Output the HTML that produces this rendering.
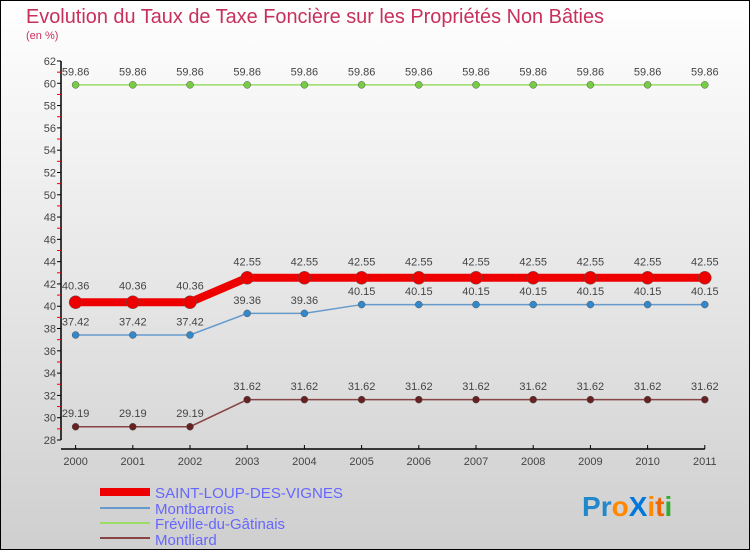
<!DOCTYPE html>
<html><head><meta charset="utf-8"><style>
body{margin:0;width:750px;height:550px;overflow:hidden;font-family:"Liberation Sans",sans-serif}
svg{display:block}
</style></head><body>
<svg id="chart" width="750" height="550" xmlns="http://www.w3.org/2000/svg">
<defs><linearGradient id="bg" x1="0" y1="0" x2="0" y2="1"><stop offset="0" stop-color="#ffffff"/><stop offset="1" stop-color="#cfcfcf"/></linearGradient></defs>
<rect x="0.5" y="0.5" width="749" height="549" fill="url(#bg)" stroke="#000"/>
<text x="26" y="23" font-size="20" fill="#c8305c" textLength="578" lengthAdjust="spacingAndGlyphs">Evolution du Taux de Taxe Foncière sur les Propriétés Non Bâties</text>
<text x="26" y="39" font-size="11" fill="#c8305c">(en %)</text>
<g id="axes"></g>
<g id="series"></g>
<g font-size="15" fill="#6666ff">
<rect x="100" y="488" width="50" height="8" fill="#ee0000"/>
<text x="155" y="498" textLength="188" lengthAdjust="spacingAndGlyphs">SAINT-LOUP-DES-VIGNES</text>
<rect x="100" y="507" width="50" height="2" fill="#6699cc"/>
<text x="155" y="514">Montbarrois</text>
<rect x="100" y="522" width="50" height="2" fill="#99dd66"/>
<text x="155" y="529">Fréville-du-Gâtinais</text>
<rect x="100" y="537" width="50" height="2" fill="#884444"/>
<text x="155" y="545">Montliard</text>
</g>
<g font-size="28" font-weight="bold">
<text x="582" y="516"><tspan fill="#2288cc">P</tspan><tspan fill="#2288cc">r</tspan><tspan fill="#ff8800">o</tspan><tspan fill="#0077dd">X</tspan><tspan fill="#ff8800">i</tspan><tspan fill="#ee6600">t</tspan><tspan fill="#33aa33">i</tspan></text>
</g>
</svg>
<script>
const years=["2000","2001","2002","2003","2004","2005","2006","2007","2008","2009","2010","2011"];
const yTicks=[28,30,32,34,36,38,40,42,44,46,48,50,52,54,56,58,60,62];
const saintLoup=[40.36,40.36,40.36,42.55,42.55,42.55,42.55,42.55,42.55,42.55,42.55,42.55];
const montbarrois=[37.42,37.42,37.42,39.36,39.36,40.15,40.15,40.15,40.15,40.15,40.15,40.15];
const freville=[59.86,59.86,59.86,59.86,59.86,59.86,59.86,59.86,59.86,59.86,59.86,59.86];
const montliard=[29.19,29.19,29.19,31.62,31.62,31.62,31.62,31.62,31.62,31.62,31.62,31.62];
const NS="http://www.w3.org/2000/svg";
const X0=75.6,DX=57.2,Y0=440,YMIN=28,YMAX=62,YTOP=61;
const xs=i=>X0+i*DX, ys=v=>Y0-(v-YMIN)*(Y0-YTOP)/(YMAX-YMIN);
function mk(tag,attrs,parent){const e=document.createElementNS(NS,tag);for(const k in attrs)e.setAttribute(k,attrs[k]);parent.appendChild(e);return e;}
const ax=document.getElementById('axes');
let l=mk('line',{x1:61,y1:YTOP,x2:61,y2:Y0,stroke:'#000','stroke-width':1.5},ax);


l=mk('line',{x1:61,y1:449,x2:xs(11),y2:449,stroke:'#000','stroke-width':1.5},ax);


yTicks.forEach(v=>{
 const y=ys(v);
 mk('line',{x1:57,y1:y,x2:61,y2:y,stroke:'#000'},ax);
 if(v<YMAX) mk('line',{x1:57,y1:ys(v+1),x2:61,y2:ys(v+1),stroke:'#e00'},ax);
 const t=mk('text',{x:56,y:y+4,'font-size':11,fill:'#444','text-anchor':'end'},ax);
 
 
 t.textContent=v;
});
years.forEach((yr,i)=>{
 mk('line',{x1:xs(i),y1:445,x2:xs(i),y2:449,stroke:'#000'},ax);
 const t=mk('text',{x:xs(i),y:465,'font-size':11,fill:'#444','text-anchor':'middle'},ax);
 
 
 t.textContent=yr;
});
const sg=document.getElementById('series');
function series(name,data,color,w,r,dot){
 const g=mk('g',{},sg);
 
 
 const p=mk('polyline',{points:data.map((v,i)=>xs(i)+','+ys(v)).join(' '),fill:'none',stroke:color,'stroke-width':w},g);
 
 
 data.forEach((v,i)=>{
  const c=mk('circle',{cx:xs(i),cy:ys(v),r:r,fill:dot,stroke:'#555','stroke-width':0.5},g);
  
  
  const t=mk('text',{x:xs(i),y:ys(v)-(r+6),'font-size':11,fill:'#444','text-anchor':'middle'},g);
  
  
  t.textContent=v.toFixed(2);
 });
}
series('series-freville',freville,'#99dd66',1.5,3.5,'#77cc44');
series('series-montbarrois',montbarrois,'#6699cc',1.5,3.5,'#3388cc');
series('series-montliard',montliard,'#884444',1.5,3.5,'#662222');
series('series-saint-loup',saintLoup,'#ee0000',8,6.5,'#ee0000');
</script>
</body></html>
